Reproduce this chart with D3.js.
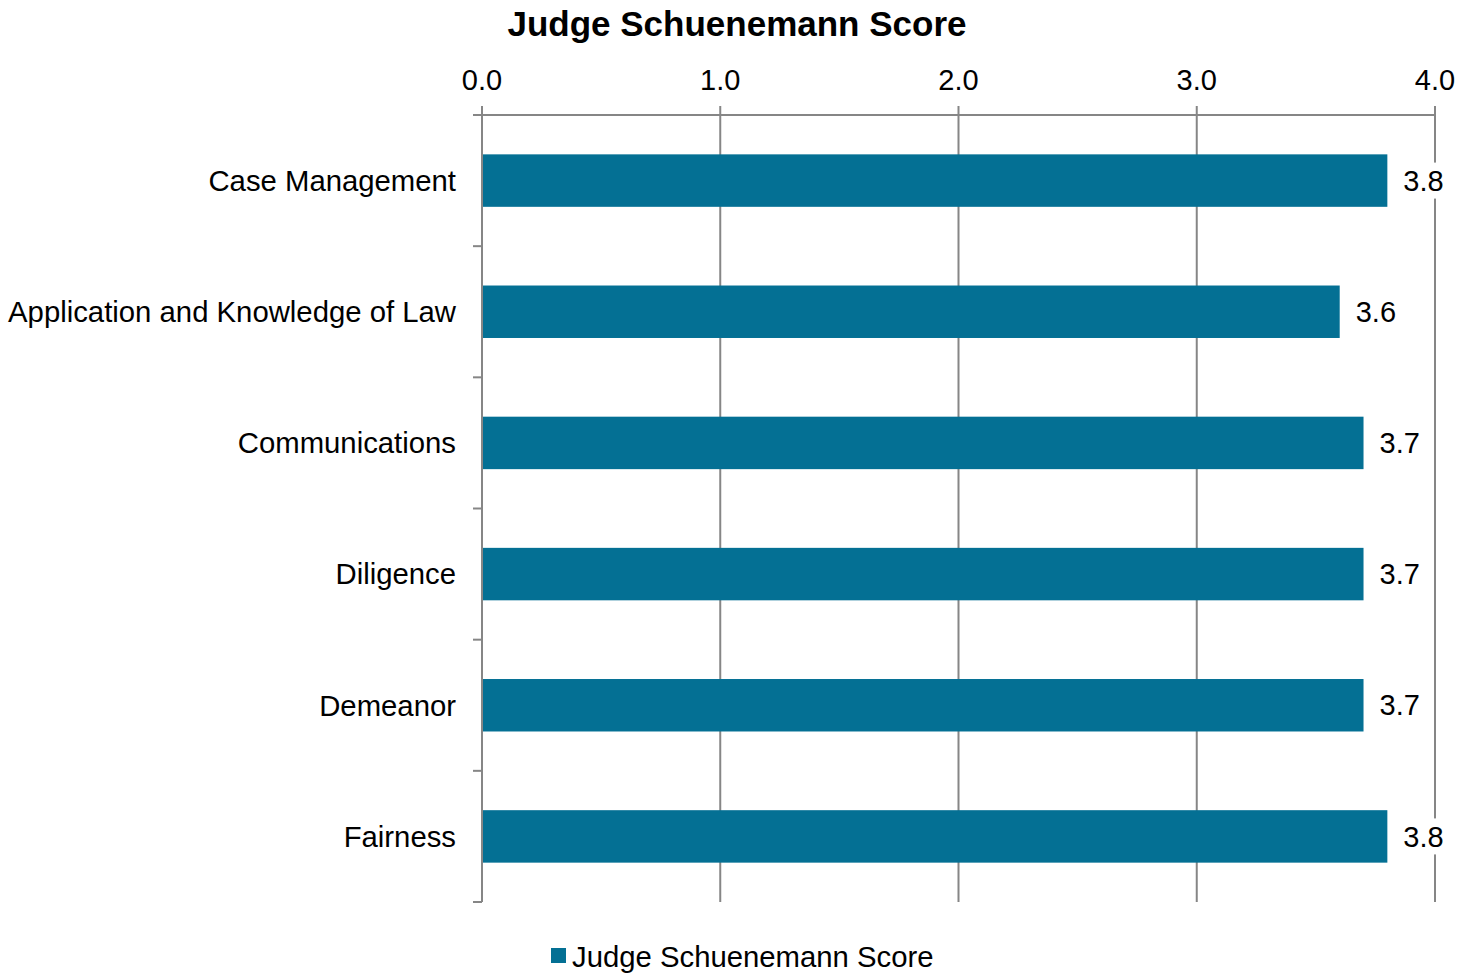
<!DOCTYPE html>
<html>
<head>
<meta charset="utf-8">
<script src="https://cdn.jsdelivr.net/npm/d3@7"></script>
<style>
  body { margin: 0; background: #fff; }
  text { font-family: "Liberation Sans", Arial, sans-serif; fill: #000; }
</style>
</head>
<body>
<script>
// data
const categories = ["Case Management", "Application and Knowledge of Law", "Communications",
                    "Diligence", "Demeanor", "Fairness"];
const scores = [3.8, 3.6, 3.7, 3.7, 3.7, 3.8];
const tickValues = [0, 1, 2, 3, 4];
const seriesName = "Judge Schuenemann Score";

const w = 1473, h = 973;
const plotLeft = 482, plotRight = 1435, plotTop = 115, plotBottom = 902;
const gridColor = "#868686";
const barColor = "#047094";

const svg = d3.select("body").append("svg")
  .attr("width", w).attr("height", h);

const x = d3.scaleLinear().domain([0, 4]).range([plotLeft, plotRight]);
const y = d3.scaleBand().domain(categories).range([plotTop, plotBottom]).paddingInner(0.6).paddingOuter(0.3);

// title
svg.append("text")
  .attr("x", 737).attr("y", 36)
  .attr("text-anchor", "middle")
  .style("font-size", "35px").style("font-weight", "bold")
  .text(seriesName);

// vertical gridlines (including ticks above axis)
svg.append("g").selectAll("line")
  .data(tickValues).enter().append("line")
  .attr("x1", d => x(d)).attr("x2", d => x(d))
  .attr("y1", plotTop - 9).attr("y2", plotBottom)
  .attr("stroke", gridColor).attr("stroke-width", 2);

// top axis line
svg.append("line")
  .attr("x1", plotLeft - 8).attr("x2", plotRight)
  .attr("y1", plotTop).attr("y2", plotTop)
  .attr("stroke", gridColor).attr("stroke-width", 2);

// top axis labels
svg.append("g").selectAll("text")
  .data(tickValues).enter().append("text")
  .attr("x", d => x(d)).attr("y", 90)
  .attr("text-anchor", "middle")
  .style("font-size", "29px")
  .text(d => d3.format(".1f")(d));

// left category ticks at band boundaries
const step = (plotBottom - plotTop) / categories.length;
const boundaries = d3.range(categories.length + 1).map(i => plotTop + i * step);
svg.append("g").selectAll("line")
  .data(boundaries).enter().append("line")
  .attr("x1", plotLeft - 9).attr("x2", plotLeft)
  .attr("y1", d => d).attr("y2", d => d)
  .attr("stroke", gridColor).attr("stroke-width", 2);

// category labels
svg.append("g").selectAll("text")
  .data(categories).enter().append("text")
  .attr("x", plotLeft - 26)
  .attr("y", d => y(d) + y.bandwidth() / 2)
  .attr("dy", "0.35em")
  .attr("text-anchor", "end")
  .style("font-size", "29.3px")
  .text(d => d);

// bars
svg.append("g").selectAll("rect")
  .data(scores).enter().append("rect")
  .attr("x", x(0) + 1)
  .attr("y", (d, i) => y(categories[i]))
  .attr("width", d => x(d) - x(0) - 1)
  .attr("height", y.bandwidth())
  .attr("fill", barColor);

// value labels with white background
const labels = svg.append("g").selectAll("g")
  .data(scores).enter().append("g")
  .attr("transform", (d, i) => `translate(${x(d) + 16},${y(categories[i]) + y.bandwidth() / 2})`);
labels.append("rect")
  .attr("x", -2).attr("y", -18).attr("width", 46).attr("height", 36)
  .attr("fill", "#fff");
labels.append("text")
  .attr("dy", "0.35em")
  .style("font-size", "29px")
  .text(d => d3.format(".1f")(d));

// left axis line
svg.append("line")
  .attr("x1", plotLeft).attr("x2", plotLeft)
  .attr("y1", plotTop - 9).attr("y2", plotBottom)
  .attr("stroke", gridColor).attr("stroke-width", 2);

// legend
svg.append("rect")
  .attr("x", 551).attr("y", 948).attr("width", 15).attr("height", 15)
  .attr("fill", barColor);
svg.append("text")
  .attr("x", 572).attr("y", 967)
  .style("font-size", "29.3px")
  .text(seriesName);
</script>
</body>
</html>
